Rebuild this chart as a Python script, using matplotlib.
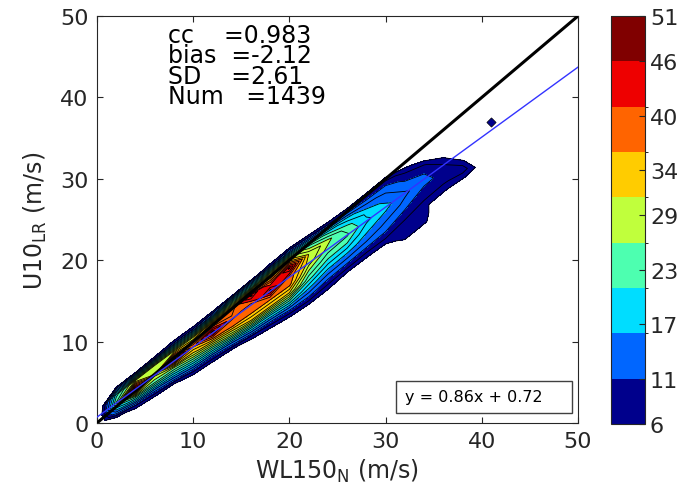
import numpy as np
import matplotlib
matplotlib.use('Agg')
import matplotlib.pyplot as plt
from matplotlib.colors import ListedColormap, BoundaryNorm
from matplotlib.cm import ScalarMappable

# bins along the ridge (WL150_N) and ridge centre (U10_LR)
col_x = [0, 2, 4, 6, 8, 10, 12, 14, 16, 18, 20, 22, 24, 26, 28, 30, 32, 34, 36, 38, 40, 42]
col_center = [0.5, 2.4, 4.2, 6.0, 7.8, 9.5, 11.2, 12.9, 14.6, 16.3, 18.0, 19.7, 21.4,
              23.1, 24.8, 26.5, 28.2, 29.6, 30.6, 31.2, 31.5, 32.0]
# offsets across the ridge (m/s)
offsets = [-8, -6, -5, -4, -3, -2, -1, 0, 1, 2, 3, 4, 6]
# counts per bin: one row per column of col_x, one value per offset
counts = [
    [0, 0, 0, 0, 0, 0, 0, 0, 0, 0, 0, 0, 0],
    [0, 0, 0, 0, 0, 3, 14, 24, 20, 6, 0, 0, 0],
    [0, 0, 0, 0, 2, 9, 22, 47, 29, 6, 0, 0, 0],
    [0, 0, 0, 0, 4, 12, 24, 30, 30, 7, 0, 0, 0],
    [0, 0, 0, 2, 6, 16, 26, 47, 29, 9, 0, 0, 0],
    [0, 0, 0, 3, 10, 20, 30, 37, 29, 9, 0, 0, 0],
    [0, 0, 0, 4, 11, 22, 34, 47, 34, 12, 0, 0, 0],
    [0, 0, 0, 5, 14, 27, 37, 39, 37, 20, 0, 0, 0],
    [0, 0, 2, 8, 18, 31, 37, 38, 46.5, 22, 5, 0, 0],
    [0, 0, 4, 10, 19, 31, 37, 46.5, 38, 28, 8, 0, 0],
    [0, 0, 6, 12, 21, 31, 37, 38, 46.5, 32, 12, 0, 0],
    [0, 0, 7, 12, 17, 22, 26, 30, 31, 24, 10, 0, 0],
    [0, 0, 6, 10, 14, 18, 22, 25, 27, 20, 8, 0, 0],
    [0, 0, 4, 9, 13, 17, 21, 24, 22, 17, 8, 0, 0],
    [0, 0, 4, 8, 12, 15, 17, 19, 18, 14, 9, 2, 0],
    [0, 0, 4, 8, 11, 13, 15, 17, 15, 13, 10, 4, 0],
    [0, 5, 8, 7, 9, 11, 13, 14, 12, 10, 7, 0, 0],
    [0, 0, 7, 8, 7, 9, 10, 12, 11, 9, 4, 0, 0],
    [0, 0, 0, 0, 3, 7, 9, 10, 9, 6, 0, 0, 0],
    [0, 0, 0, 0, 0, 2, 7, 10, 6.5, 0, 0, 0, 0],
    [0, 0, 0, 0, 0, 0, 0, 4, 0, 0, 0, 0, 0],
    [0, 0, 0, 0, 0, 0, 0, 0, 0, 0, 0, 0, 0],
]
# isolated bin
lone_x, lone_y = [41], [37]

band_edges = [6, 11, 16, 21, 26, 31, 36, 41, 46, 51]
cbar_ticks = [6, 11, 17, 23, 29, 34, 40, 46, 51]
band_colors = ['#00008C', '#0066FF', '#00DDFF', '#4DFFB0', '#C0FF3C',
               '#FFCC00', '#FF6400', '#EE0000', '#800000']

stats = ['cc    =0.983', 'bias  =-2.12', 'SD    =2.61', 'Num   =1439']
fit_slope, fit_icpt = 0.86, 0.72

cmap = ListedColormap(band_colors)
norm = BoundaryNorm(band_edges, cmap.N)

X = np.repeat(np.array(col_x, float)[:, None], len(offsets), axis=1)
Y = np.array(col_center)[:, None] + np.array(offsets)[None, :]
Z = np.array(counts, float)

fig = plt.figure(figsize=(6.82, 5.02), dpi=100)
ax = fig.add_axes([0.1422, 0.1554, 0.7053, 0.8107])
cax = fig.add_axes([0.8959, 0.1534, 0.0499, 0.8127])

levels = np.linspace(6, 51, 19)
ax.contourf(X, Y, Z, levels=levels, cmap=cmap, norm=norm)
ax.contour(X, Y, Z, levels=levels, colors='k', linewidths=0.6)
ax.scatter(lone_x, lone_y, marker='D', s=22, color=band_colors[0],
           edgecolors='k', linewidths=0.5, zorder=3)

xx = np.array([0, 50])
ax.plot(xx, xx, color='k', lw=2.2, zorder=4)
ax.plot(xx, fit_slope * xx + fit_icpt, color='#3333FF', lw=1.0, zorder=4)

ax.set_xlim(0, 50)
ax.set_ylim(0, 50)
ax.set_xticks(range(0, 51, 10))
ax.set_yticks(range(0, 51, 10))
grey = '#262626'
ax.tick_params(direction='in', length=4, top=True, right=True, labelsize=16,
               colors=grey, pad=6)
for s in ax.spines.values():
    s.set_color(grey)
    s.set_linewidth(0.8)

ax.set_xlabel('WL150$_\\mathregular{N}$ (m/s)', fontsize=17, color=grey, labelpad=4)
ax.set_ylabel('U10$_\\mathregular{LR}$ (m/s)', fontsize=17, color=grey, labelpad=8)

# stats block, tight line spacing as in the original
ax.text(7.4, 49.2, '\n'.join(stats), fontsize=17, va='top', ha='left',
        color='k', linespacing=0.82)

ax.text(32.0, 3.2, 'y = %.2fx + %.2f    ' % (fit_slope, fit_icpt), fontsize=11.5,
        ha='left', va='center', color='k',
        bbox=dict(boxstyle='square,pad=0.55', fc='white', ec='#404040', lw=1))

cb = fig.colorbar(ScalarMappable(norm=norm, cmap=cmap), cax=cax, ticks=cbar_ticks)
cb.ax.tick_params(direction='in', length=4, labelsize=16, colors=grey)
cb.outline.set_edgecolor(grey)
cb.outline.set_linewidth(0.8)

fig.savefig('out.png', dpi=100)
